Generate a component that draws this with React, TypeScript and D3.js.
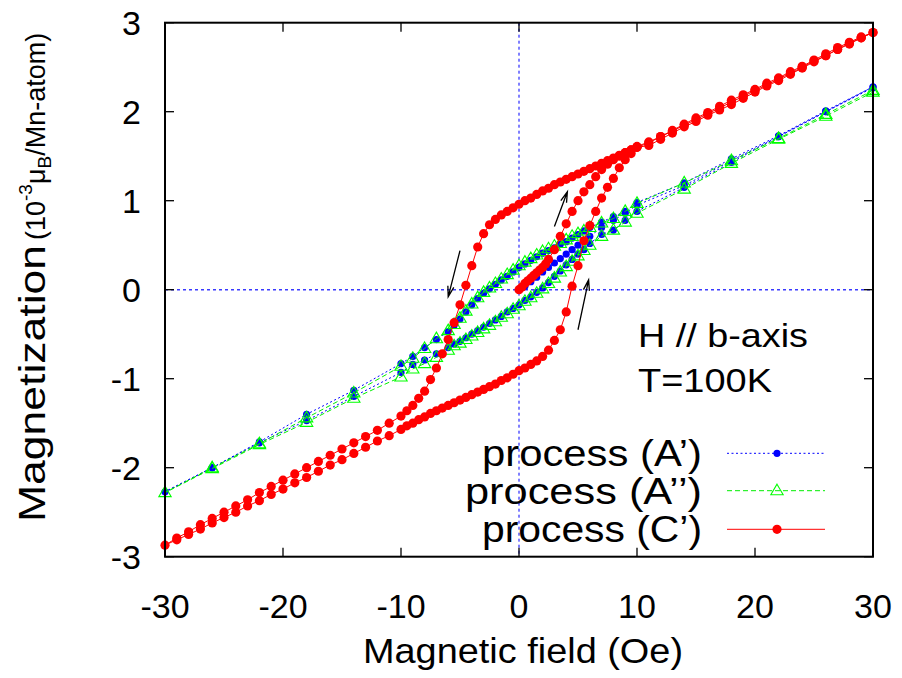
import React from "react";
import * as d3 from "d3";

type P = [number, number];

// ---------- axis ticks ----------
const xTicks = [-30, -20, -10, 0, 10, 20, 30];
const yTicks = [-3, -2, -1, 0, 1, 2, 3];

// ---------- process (A') blue ----------
const blueVirgin: P[] = [
  [0, 0.0], [0.5, 0.04], [1, 0.09], [1.5, 0.14], [2, 0.2], [2.5, 0.25], [3, 0.3], [3.5, 0.35],
  [4, 0.4], [4.5, 0.45], [5, 0.5], [5.5, 0.55], [6, 0.6], [7, 0.7], [8, 0.78], [9, 0.86],
  [10, 0.95], [14, 1.17], [18, 1.45], [22, 1.72], [26, 2.0], [30, 2.28],
];
const blueDown: P[] = [
  [30, 2.28], [26, 2.01], [22, 1.73], [18, 1.47], [14, 1.2], [10, 0.98], [9, 0.88], [8, 0.82],
  [7, 0.76], [6, 0.7], [5.5, 0.66], [5, 0.62], [4.5, 0.58], [4, 0.54], [3.5, 0.51], [3, 0.47],
  [2.5, 0.44], [2, 0.41], [1.5, 0.37], [1, 0.33], [0.5, 0.29], [0, 0.25], [-0.5, 0.2], [-1, 0.15],
  [-1.5, 0.11], [-2, 0.06], [-2.5, 0.01], [-3, -0.04], [-3.5, -0.1], [-4, -0.17], [-4.5, -0.25],
  [-5, -0.33], [-5.5, -0.4], [-6, -0.47], [-7, -0.56], [-8, -0.65], [-9, -0.75], [-10, -0.83],
  [-14, -1.13], [-18, -1.4], [-22, -1.71], [-26, -2.0], [-30, -2.27],
];
const blueUp: P[] = [
  [-30, -2.27], [-26, -2.0], [-22, -1.72], [-18, -1.47], [-14, -1.2], [-10, -0.93], [-9, -0.84],
  [-8, -0.79], [-7, -0.72], [-6, -0.65], [-5.5, -0.61], [-5, -0.58], [-4.5, -0.54], [-4, -0.5],
  [-3.5, -0.46], [-3, -0.42], [-2.5, -0.38], [-2, -0.34], [-1.5, -0.3], [-1, -0.25], [-0.5, -0.21],
  [0, -0.17], [0.5, -0.12], [1, -0.08], [1.5, -0.03], [2, 0.02], [2.5, 0.08], [3, 0.15], [3.5, 0.21],
  [4, 0.28], [4.5, 0.34], [5, 0.4], [5.5, 0.45], [6, 0.52], [7, 0.62], [8, 0.67], [9, 0.78],
  [10, 0.88], [14, 1.15], [18, 1.43], [22, 1.72], [26, 2.0], [30, 2.27],
];

// ---------- process (A'') green ----------
const greenDown: P[] = [
  [30, 2.24], [26, 1.97], [22, 1.7], [18, 1.45], [14, 1.2], [10, 0.97], [9, 0.88], [8, 0.8],
  [7, 0.75], [6, 0.7], [5.5, 0.66], [5, 0.63], [4.5, 0.6], [4, 0.56], [3.5, 0.52], [3, 0.49],
  [2.5, 0.46], [2, 0.43], [1.5, 0.39], [1, 0.35], [0.5, 0.31], [0, 0.27], [-0.5, 0.22], [-1, 0.17],
  [-1.5, 0.12], [-2, 0.07], [-2.5, 0.02], [-3, -0.03], [-3.5, -0.09], [-4, -0.16], [-4.5, -0.24],
  [-5, -0.32], [-5.5, -0.39], [-6, -0.46], [-7, -0.55], [-8, -0.66], [-9, -0.77], [-10, -0.86],
  [-14, -1.16], [-18, -1.44], [-22, -1.73], [-26, -2.0], [-30, -2.28],
];
const greenUp: P[] = [
  [-30, -2.28], [-26, -2.01], [-22, -1.74], [-18, -1.49], [-14, -1.22], [-10, -0.98], [-9, -0.89],
  [-8, -0.83], [-7, -0.76], [-6, -0.68], [-5.5, -0.63], [-5, -0.6], [-4.5, -0.56], [-4, -0.52],
  [-3.5, -0.48], [-3, -0.44], [-2.5, -0.4], [-2, -0.36], [-1.5, -0.31], [-1, -0.27], [-0.5, -0.22],
  [0, -0.18], [0.5, -0.13], [1, -0.09], [1.5, -0.04], [2, 0.01], [2.5, 0.07], [3, 0.13], [3.5, 0.2],
  [4, 0.26], [4.5, 0.32], [5, 0.38], [5.5, 0.44], [6, 0.5], [7, 0.6], [8, 0.67], [9, 0.76],
  [10, 0.86], [14, 1.13], [18, 1.42], [22, 1.69], [26, 1.95], [30, 2.22],
];

// ---------- process (C') red ----------
const redVirgin: P[] = [
  [0, 0.0], [0.25, 0.03], [0.5, 0.07], [0.75, 0.1], [1, 0.13], [1.25, 0.16], [1.5, 0.19],
  [1.75, 0.22], [2, 0.25], [2.25, 0.29], [2.5, 0.34], [3, 0.45], [3.5, 0.6], [4, 0.74], [4.5, 0.88],
  [5, 1.0], [5.5, 1.1], [6, 1.18], [6.5, 1.27], [7, 1.35], [7.5, 1.41], [8, 1.46], [8.5, 1.5],
  [9, 1.54], [9.5, 1.57], [10, 1.61], [11, 1.66], [12, 1.72], [13, 1.78], [14, 1.85], [15, 1.91],
  [16, 1.98], [17, 2.04], [18, 2.11], [19, 2.17], [20, 2.24], [21, 2.3], [22, 2.37], [23, 2.43],
  [24, 2.5], [25, 2.57], [26, 2.63], [27, 2.7], [28, 2.77], [29, 2.83], [30, 2.89],
];
const redDown: P[] = [
  [30, 2.89], [29, 2.84], [28, 2.78], [27, 2.72], [26, 2.65], [25, 2.58], [24, 2.51], [23, 2.45],
  [22, 2.38], [21, 2.32], [20, 2.25], [19, 2.19], [18, 2.13], [17, 2.06], [16, 1.99], [15, 1.93],
  [14, 1.86], [13, 1.79], [12, 1.72], [11, 1.65], [10, 1.6], [9.5, 1.57], [9, 1.54], [8.5, 1.51],
  [8, 1.48], [7.5, 1.45], [7, 1.42], [6.5, 1.39], [6, 1.36], [5.5, 1.33], [5, 1.3], [4.5, 1.27],
  [4, 1.24], [3.5, 1.21], [3, 1.18], [2.5, 1.14], [2, 1.11], [1.5, 1.07], [1, 1.03], [0.5, 1.0],
  [0, 0.96], [-0.5, 0.92], [-1, 0.88], [-1.5, 0.84], [-2, 0.79], [-2.5, 0.73], [-3, 0.63],
  [-3.5, 0.48], [-4, 0.27], [-4.5, 0.05], [-5, -0.17], [-5.5, -0.37], [-6, -0.56], [-6.5, -0.72],
  [-7, -0.88], [-7.5, -1.01], [-8, -1.14], [-8.5, -1.22], [-9, -1.3], [-9.5, -1.36], [-10, -1.42],
  [-11, -1.5], [-12, -1.58], [-13, -1.65], [-14, -1.72], [-15, -1.79], [-16, -1.86], [-17, -1.93],
  [-18, -2.0], [-19, -2.07], [-20, -2.14], [-21, -2.21], [-22, -2.28], [-23, -2.36], [-24, -2.43],
  [-25, -2.5], [-26, -2.57], [-27, -2.64], [-28, -2.72], [-29, -2.79], [-30, -2.87],
];
const redUp: P[] = [
  [-30, -2.87], [-29, -2.81], [-28, -2.75], [-27, -2.69], [-26, -2.62], [-25, -2.56], [-24, -2.5],
  [-23, -2.43], [-22, -2.37], [-21, -2.3], [-20, -2.24], [-19, -2.17], [-18, -2.11], [-17, -2.04],
  [-16, -1.97], [-15, -1.91], [-14, -1.84], [-13, -1.77], [-12, -1.7], [-11, -1.64], [-10, -1.57],
  [-9.5, -1.53], [-9, -1.5], [-8.5, -1.46], [-8, -1.43], [-7.5, -1.39], [-7, -1.36], [-6.5, -1.33],
  [-6, -1.3], [-5.5, -1.27], [-5, -1.24], [-4.5, -1.21], [-4, -1.18], [-3.5, -1.15], [-3, -1.12],
  [-2.5, -1.09], [-2, -1.06], [-1.5, -1.02], [-1, -0.99], [-0.5, -0.95], [0, -0.91], [0.5, -0.88],
  [1, -0.84], [1.5, -0.8], [2, -0.75], [2.5, -0.68], [3, -0.57], [3.5, -0.45], [4, -0.25],
  [4.5, 0.04], [5, 0.27], [5.5, 0.55], [6, 0.72], [6.5, 0.88], [7, 1.03], [7.5, 1.15], [8, 1.25],
  [8.5, 1.37], [9, 1.46], [9.5, 1.53], [10, 1.6], [11, 1.62], [12, 1.69], [13, 1.76], [14, 1.83],
  [15, 1.89], [16, 1.96], [17, 2.02], [18, 2.08], [19, 2.15], [20, 2.22], [21, 2.29], [22, 2.35],
  [23, 2.42], [24, 2.49], [25, 2.56], [26, 2.63], [27, 2.7], [28, 2.76], [29, 2.83], [30, 2.89],
];

// ---------- arrows (data coords: from -> to) ----------
const arrows: [P, P][] = [
  [[-5.0, 0.44], [-6.0, -0.08]],
  [[3.0, 0.71], [4.1, 1.1]],
  [[5.0, -0.45], [5.9, 0.11]],
];

const legendLabels = ["process (A\u2019)", "process (A\u2019\u2019)", "process (C\u2019)"];
const legendWidths = [220, 237, 220];

const FONT = "'Liberation Sans', Arial, Helvetica, sans-serif";

export default function App() {
  const W = 902, H = 678;
  const L = 165, R = 873, T = 22.7, B = 556.7;
  const x = d3.scaleLinear().domain([-30, 30]).range([L, R]);
  const y = d3.scaleLinear().domain([-3, 3]).range([B, T]);
  const line = d3.line<P>().x((d) => x(d[0])).y((d) => y(d[1]));

  const blueAll = [...blueVirgin, ...blueDown.slice(1), ...blueUp.slice(1)];
  const greenAll = [...greenDown, ...greenUp.slice(1)];
  const redAll = [...redVirgin, ...redDown.slice(1), ...redUp.slice(1)];

  const tri = (cx: number, cy: number, s = 6.5) =>
    `M${cx},${cy - s}L${cx + s * 0.95},${cy + s * 0.62}L${cx - s * 0.95},${cy + s * 0.62}Z`;

  const arrowPath = (a: P, b: P) => {
    const x1 = x(a[0]), y1 = y(a[1]), x2 = x(b[0]), y2 = y(b[1]);
    const ang = Math.atan2(y2 - y1, x2 - x1);
    const hl = 11, ha = 0.28;
    const p1 = [x2 - hl * Math.cos(ang - ha), y2 - hl * Math.sin(ang - ha)];
    const p2 = [x2 - hl * Math.cos(ang + ha), y2 - hl * Math.sin(ang + ha)];
    return `M${x1},${y1}L${x2},${y2}M${p1[0]},${p1[1]}L${x2},${y2}L${p2[0]},${p2[1]}`;
  };

  const tickLen = 9;
  const legY = [453.3, 490.7, 529.3];
  const legX1 = 727, legX2 = 825, legM = 777;

  return (
    <svg width={W} height={H} style={{ position: "absolute", left: 0, top: 0, background: "#fff" }}
      fontFamily={FONT}>
      <rect x={0} y={0} width={W} height={H} fill="#fff" />
      {/* zero lines */}
      <line x1={L} x2={R} y1={y(0)} y2={y(0)} stroke="#3a3aff" strokeWidth={1.4} strokeDasharray="3,3" />
      <line x1={x(0)} x2={x(0)} y1={T} y2={B} stroke="#0000ff" strokeWidth={1} strokeDasharray="3,3" />

      {/* ticks */}
      {xTicks.map((t) => (
        <g key={"xt" + t}>
          <line x1={x(t)} x2={x(t)} y1={B} y2={B - tickLen} stroke="#000" strokeWidth={1.3} />
          <line x1={x(t)} x2={x(t)} y1={T} y2={T + tickLen} stroke="#000" strokeWidth={1.3} />
          <text x={x(t)} y={618} fontSize={34} textAnchor="middle">{t}</text>
        </g>
      ))}
      {yTicks.map((t) => (
        <g key={"yt" + t}>
          <line x1={L} x2={L + tickLen} y1={y(t)} y2={y(t)} stroke="#000" strokeWidth={1.3} />
          <line x1={R} x2={R - tickLen} y1={y(t)} y2={y(t)} stroke="#000" strokeWidth={1.3} />
          <text x={141} y={y(t) + 12} fontSize={34} textAnchor="end">{t}</text>
        </g>
      ))}

      {/* blue A' */}
      <path d={line(blueAll) ?? ""} fill="none" stroke="#0000ff" strokeWidth={1} strokeDasharray="2,2.5" />
      {blueAll.map((d, i) => (
        <circle key={"b" + i} cx={x(d[0])} cy={y(d[1])} r={3.6} fill="#0000ff" />
      ))}
      {/* green A'' */}
      <path d={line(greenAll) ?? ""} fill="none" stroke="#00ee00" strokeWidth={1} strokeDasharray="5,3" />
      {greenAll.map((d, i) => (
        <path key={"g" + i} d={tri(x(d[0]), y(d[1]))} fill="none" stroke="#00ff00" strokeWidth={1.1} />
      ))}
      {/* red C' */}
      <path d={line(redAll) ?? ""} fill="none" stroke="#ff0000" strokeWidth={1} />
      {redAll.map((d, i) => (
        <circle key={"r" + i} cx={x(d[0])} cy={y(d[1])} r={4.6} fill="#ff0000" />
      ))}

      {/* arrows */}
      {arrows.map((a, i) => (
        <path key={"a" + i} d={arrowPath(a[0], a[1])} fill="none" stroke="#000" strokeWidth={1.3} />
      ))}

      {/* frame */}
      <rect x={L} y={T} width={R - L} height={B - T} fill="none" stroke="#000" strokeWidth={2} />

      {/* annotations */}
      <text x={638} y={347} fontSize={33} textLength={170} lengthAdjust="spacingAndGlyphs">H // b-axis</text>
      <text x={638} y={392} fontSize={33} textLength={134} lengthAdjust="spacingAndGlyphs">T=100K</text>

      {/* legend */}
      {legendLabels.map((lab, i) => (
        <text key={"lt" + i} x={702 - legendWidths[i]} y={legY[i] + 13} fontSize={37}
          textLength={legendWidths[i]} lengthAdjust="spacingAndGlyphs">{lab}</text>
      ))}
      <line x1={legX1} x2={legX2} y1={legY[0]} y2={legY[0]} stroke="#0000ff" strokeWidth={1} strokeDasharray="2,2.5" />
      <circle cx={legM} cy={legY[0]} r={3.6} fill="#0000ff" />
      <line x1={legX1} x2={legX2} y1={legY[1]} y2={legY[1]} stroke="#00ee00" strokeWidth={1} strokeDasharray="5,3" />
      <path d={tri(legM, legY[1])} fill="none" stroke="#00ff00" strokeWidth={1.1} />
      <line x1={legX1} x2={legX2} y1={legY[2]} y2={legY[2]} stroke="#ff0000" strokeWidth={1} />
      <circle cx={legM} cy={legY[2]} r={4.6} fill="#ff0000" />

      {/* axis titles */}
      <text x={523} y={663} fontSize={35} textAnchor="middle" textLength={320} lengthAdjust="spacingAndGlyphs">
        Magnetic field (Oe)
      </text>
      <text transform="translate(45,522) rotate(-90)" fontSize={36} textLength={277} lengthAdjust="spacingAndGlyphs">
        Magnetization
      </text>
      <text transform="translate(45,240) rotate(-90)" fontSize={27}>
        <tspan>(10</tspan>
        <tspan fontSize={19} dy={-13}>-3</tspan>
        <tspan fontSize={27} dy={13}>μ</tspan>
        <tspan fontSize={19} dy={6}>B</tspan>
        <tspan fontSize={27} dy={-6}>/Mn-atom)</tspan>
      </text>
    </svg>
  );
}
